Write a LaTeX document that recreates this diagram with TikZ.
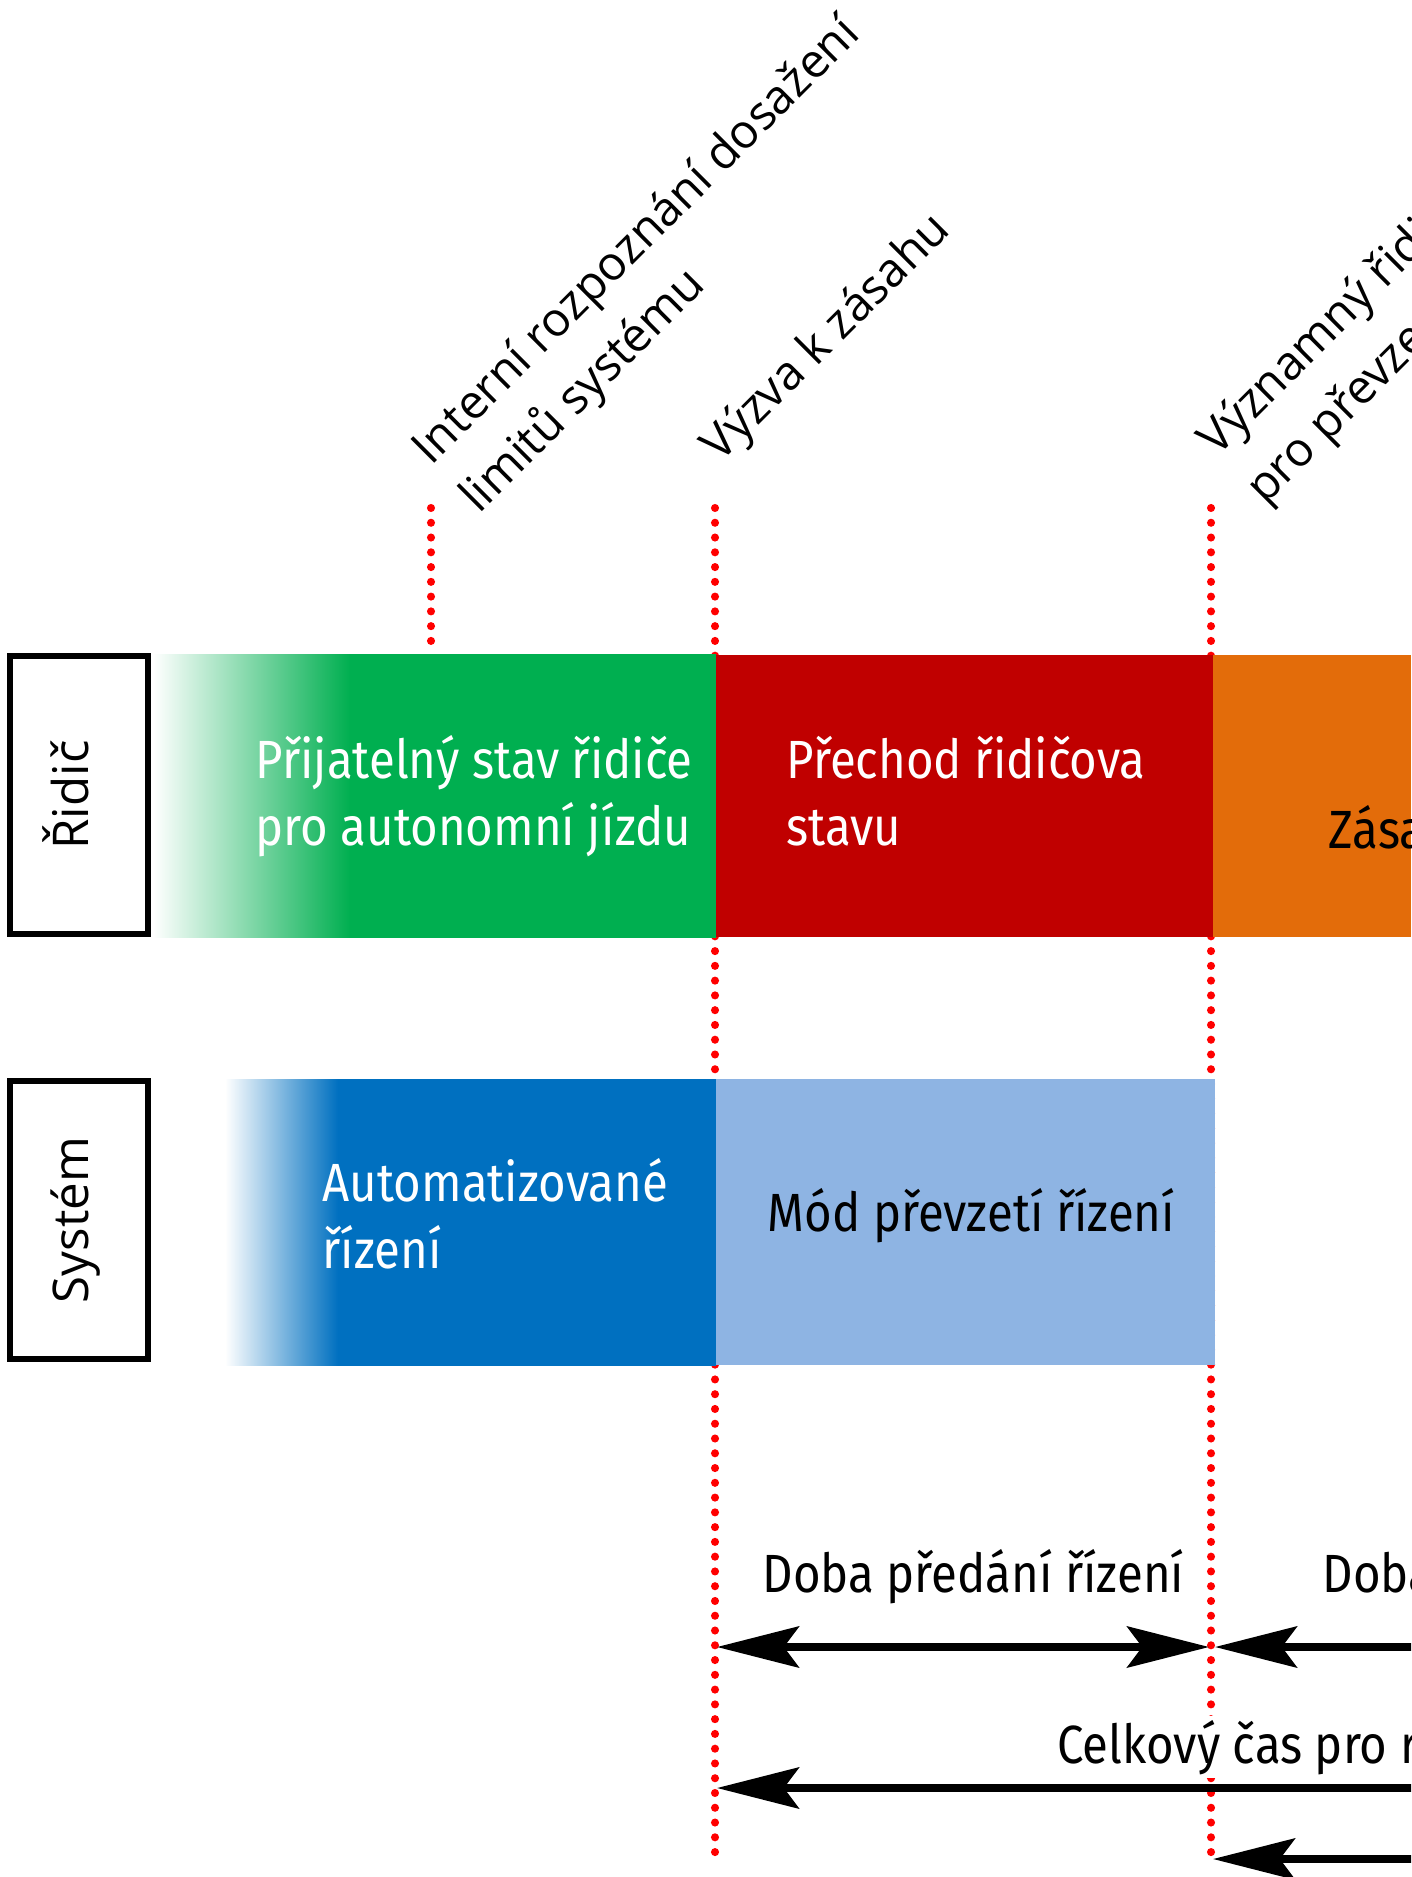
\documentclass[tikz,border=0pt]{standalone}
\usepackage{fontspec}
\setmainfont{Fira Sans}[FakeStretch=0.88]
\newfontfamily\markfont{Open Sans}
\usetikzlibrary{arrows.meta}

\definecolor{zelena}{HTML}{00AF50}
\definecolor{cervena}{HTML}{C00000}
\definecolor{oranzova}{HTML}{E36C0A}
\definecolor{modra}{HTML}{0070C0}
\definecolor{svetlemodra}{HTML}{8EB4E3}

% nabeh barvy zleva
\pgfdeclarehorizontalshading{zelenynabeh}{100bp}{color(0bp)=(white); color(25bp)=(white);
  color(42.5bp)=(zelena); color(100bp)=(zelena)}
\pgfdeclarehorizontalshading{modrynabeh}{100bp}{color(0bp)=(white); color(25bp)=(white);
  color(36.5bp)=(modra); color(100bp)=(modra)}

\begin{document}
\begin{tikzpicture}[x = 0.01cm, y = -0.01cm,
  sidebox/.style = {draw, line width = 1.7pt, rotate = 90, minimum width = 2.78cm,
    minimum height = 1.38cm, inner sep = 0pt, text height = 10.6pt, text depth = 5.4pt,
    font = \markfont\fontsize{14}{17}\selectfont},
  bartext/.style = {anchor = base west, align = left, inner sep = 0pt,
    font = \fontsize{15.3}{19}\selectfont},
  marklabel/.style = {rotate = 45, anchor = base west, align = left, inner sep = 0pt,
    font = \markfont\fontsize{13.4}{19.3}\selectfont},
  timeline/.style = {red, line width = 2.3pt, line cap = round, dash pattern = on 0pt off 4.2pt},
  dimarrow/.style = {line width = 2.1pt,
    {Stealth[length = 23.3pt, width = 11.7pt, inset = 4.3pt]}-{Stealth[length = 23.3pt, width = 11.7pt, inset = 4.3pt]}}]
\useasboundingbox (0, 0) rectangle (1411, 1877);
\clip (0, 0) rectangle (1411, 1877);

% casove okamziky
\coordinate (t1top) at (431, 508);
\coordinate (t1bot) at (431, 655);
\coordinate (t2top) at (715, 508);
\coordinate (t2bot) at (715, 1855);
\coordinate (t3top) at (1211, 508);
\coordinate (t3bot) at (1211, 1855);
\draw[timeline] (t1top) -- (t1bot);
\draw[timeline] (t2top) -- (t2bot);
\draw[timeline] (t3top) -- (t3bot);

% ridic
\shade[shading = zelenynabeh] (153, 655) rectangle (716, 937);
\fill[cervena] (716, 655) rectangle (1213, 937);
\fill[oranzova] (1213, 655) rectangle (1411, 937);
% system
\shade[shading = modrynabeh] (225, 1079) rectangle (716, 1365);
\fill[svetlemodra] (716, 1079) rectangle (1215, 1365);

\node[sidebox] (ridic) at (79, 795) {Řidič};
\node[sidebox] (system) at (79, 1220) {Systém};

\node[bartext, white] (prijatelny) at (255, 845) {Přijatelný stav řidiče\\pro autonomní jízdu};
\node[bartext, white] (prechod) at (786, 845) {Přechod řidičova\\stavu};
\node[bartext] (zasah) at (1328, 848) {Zásah řidiče};
\node[bartext, white] (automat) at (322, 1268) {Automatizované\\řízení};
\node[bartext] (mod) at (767, 1231) {Mód převzetí řízení};

\node[marklabel] (interni) at (479, 515) {Interní rozpoznání dosažení\\limitů systému};
\node[marklabel] (vyzva) at (720, 464) {Výzva k zásahu};
\node[marklabel] (vyznamny) at (1265, 506) {Významný řidičův zásah\\pro převzetí řízení};

% doby
\coordinate (predL) at (717, 1647);
\coordinate (predR) at (1209, 1647);
\coordinate (zasL) at (1215, 1647);
\coordinate (zasR) at (1750, 1647);
\coordinate (celkL) at (717, 1788);
\coordinate (celkR) at (1950, 1788);
\coordinate (dalsiL) at (1213, 1859);
\coordinate (dalsiR) at (1800, 1859);
\draw[dimarrow] (predL) -- (predR);
\draw[dimarrow] (zasL) -- (zasR);
\draw[dimarrow] (celkL) -- (celkR);
\draw[dimarrow] (dalsiL) -- (dalsiR);
\node[bartext] (dobaPred) at (762, 1592) {Doba předání řízení};
\node[bartext] (dobaZas) at (1322, 1592) {Doba zásahu řidiče};
\node[bartext, fill = white, inner sep = 1pt] (celkem) at (1053, 1763) {Celkový čas pro reakci řidiče};
\end{tikzpicture}
\end{document}
